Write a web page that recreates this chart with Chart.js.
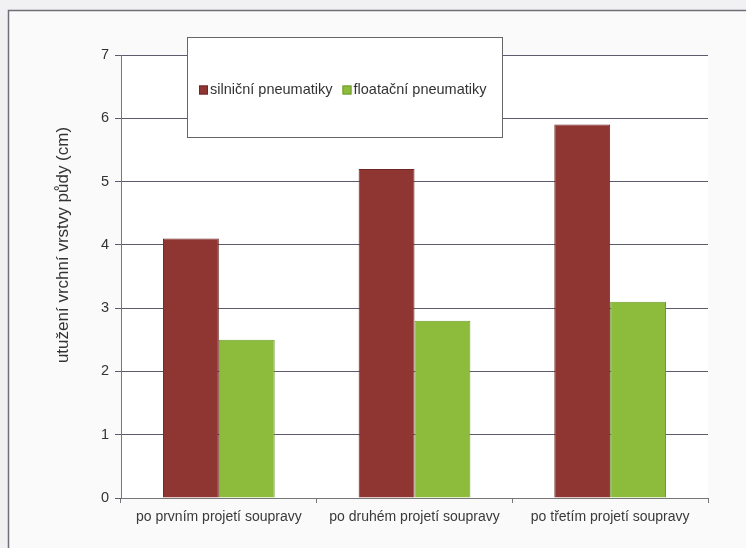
<!DOCTYPE html>
<html>
<head>
<meta charset="utf-8">
<script src="https://cdn.jsdelivr.net/npm/chart.js@4/dist/chart.umd.min.js"></script>
<style>
html,body{margin:0;padding:0;background:#f1f1f3;}
#wrap{width:746px;height:548px;position:relative;}
</style>
</head>
<body>
<div id="wrap"><canvas id="c" width="746" height="548"></canvas></div>
<script>
const categories = ["po prvním projetí soupravy", "po druhém projetí soupravy", "po třetím projetí soupravy"];
const seriesNames = ["silniční pneumatiky", "floatační pneumatiky"];
const silnicni = [4.1, 5.2, 5.9];
const floatacni = [2.5, 2.8, 3.1];
const yTicks = [0, 1, 2, 3, 4, 5, 6, 7];
const yTitle = "utužení vrchní vrstvy půdy (cm)";
const FONT = '"Liberation Sans", Arial, sans-serif';

const frame = {
  id: 'frame',
  beforeDraw(chart) {
    const ctx = chart.ctx;
    ctx.save();
    ctx.fillStyle = '#f1f1f3';
    ctx.fillRect(0, 0, chart.width, chart.height);
    ctx.fillStyle = '#fafafa';
    ctx.fillRect(9, 11, chart.width - 9, chart.height - 11);
    ctx.strokeStyle = '#6f6f78';
    ctx.lineWidth = 1.5;
    ctx.beginPath();
    ctx.moveTo(8.5, chart.height);
    ctx.lineTo(8.5, 10.5);
    ctx.lineTo(chart.width, 10.5);
    ctx.stroke();
    const a = chart.chartArea;
    ctx.fillStyle = '#ffffff';
    ctx.fillRect(a.left, a.top, a.right - a.left, a.bottom - a.top);
    // y axis title
    ctx.translate(63, 245);
    ctx.rotate(-Math.PI / 2);
    ctx.font = '17px ' + FONT;
    ctx.fillStyle = '#333';
    ctx.textAlign = 'center';
    ctx.textBaseline = 'middle';
    ctx.fillText(yTitle, 0, 0);
    ctx.restore();
  },
  afterDatasetsDraw(chart) {
    const ctx = chart.ctx;
    const x = 187.5, y = 37.5, w = 315, h = 100;
    ctx.save();
    ctx.fillStyle = '#ffffff';
    ctx.fillRect(x, y, w, h);
    ctx.strokeStyle = '#666';
    ctx.lineWidth = 1;
    ctx.strokeRect(x, y, w, h);
    ctx.font = '14.5px ' + FONT;
    ctx.textBaseline = 'middle';
    let cx = 199;
    const cy = 90;
    chart.data.datasets.forEach((ds) => {
      ctx.fillStyle = ds.backgroundColor;
      ctx.fillRect(cx, cy - 4.5, 9, 9);
      ctx.strokeStyle = ds.borderColor;
      ctx.strokeRect(cx + 0.5, cy - 4, 8, 8);
      ctx.fillStyle = '#333';
      ctx.fillText(ds.label, cx + 11, cy);
      cx += 11 + ctx.measureText(ds.label).width + 10;
    });
    ctx.restore();
  }
};

new Chart(document.getElementById('c'), {
  type: 'bar',
  data: {
    labels: categories,
    datasets: [
      { label: seriesNames[0], data: silnicni, backgroundColor: '#8f3532', borderColor: '#6e2724', borderWidth: 1 },
      { label: seriesNames[1], data: floatacni, backgroundColor: '#8dbb3c', borderColor: '#6f9a2c', borderWidth: 1 }
    ]
  },
  options: {
    responsive: false,
    animation: false,
    devicePixelRatio: 1,
    layout: { padding: { top: 55, right: 38, left: 0, bottom: 0 } },
    plugins: { legend: { display: false }, tooltip: { enabled: false } },
    datasets: { bar: { categoryPercentage: 0.571, barPercentage: 1.0 } },
    scales: {
      x: {
        afterFit(s) { s.height = 50; },
        grid: { display: true, drawOnChartArea: false, drawTicks: true, tickLength: 5, offset: true, color: '#777' },
        border: { display: true, color: '#777', width: 1 },
        ticks: { color: '#3a3a3a', padding: 6, font: { family: FONT, size: 14 }, maxRotation: 0, autoSkip: false }
      },
      y: {
        min: 0, max: 7,
        afterFit(s) { s.width = 121; },
        afterBuildTicks(s) { s.ticks = yTicks.map(v => ({ value: v })); },
        grid: { color: '#5b5b6e', lineWidth: 1, drawTicks: true, tickLength: 6 },
        border: { display: true, color: '#777', width: 1 },
        ticks: { color: '#333', padding: 6, font: { family: FONT, size: 14.5 } },
        title: { display: false }
      }
    }
  },
  plugins: [frame]
});
</script>
</body>
</html>
